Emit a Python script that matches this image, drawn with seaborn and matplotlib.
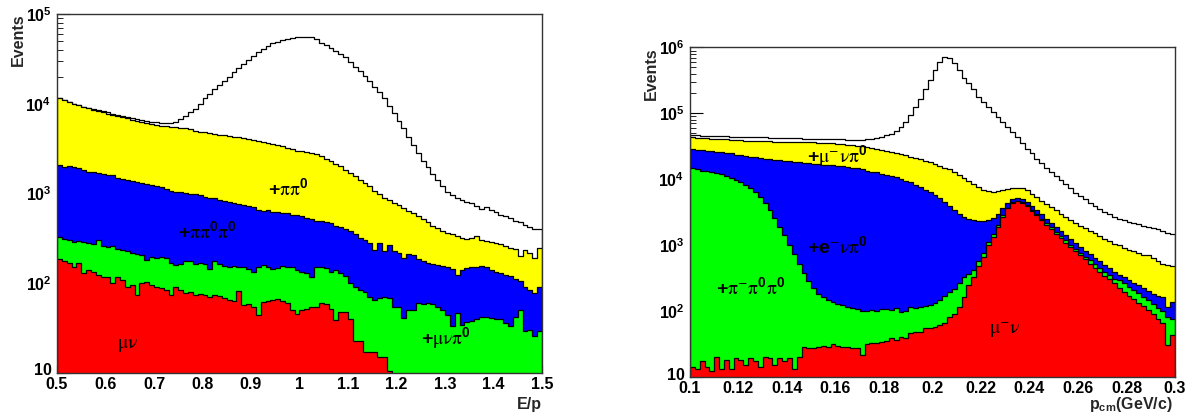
import numpy as np
import pandas as pd
import matplotlib
matplotlib.use("Agg")
import matplotlib.pyplot as plt
from matplotlib.ticker import FixedLocator, LogLocator, NullFormatter
from matplotlib.transforms import ScaledTranslation
import seaborn as sns

# ---------------- data: left panel (E/p), cumulative stack levels ----------------
ep_range = (0.5, 1.5)
ep_nbins = 100
ep_total = [11500, 11000, 10500, 10000, 9700, 9300, 9000, 8800, 8500, 8200,
            8000, 7700, 7500, 7300, 7100, 6900, 6700, 6600, 6400, 6300,
            6200, 6100, 6050, 6100, 6300, 6700, 7300, 8000, 8800, 10000,
            11500, 13000, 14500, 16000, 17800, 20000, 22500, 25000, 28000, 31000,
            34000, 38000, 41000, 44000, 47000, 49000, 51000, 53000, 54500, 55500,
            56000, 56000, 55000, 52000, 48000, 45000, 42000, 39000, 36000, 33000,
            29000, 26000, 23000, 20500, 18000, 15500, 13500, 11500, 9500, 7800,
            6500, 5300, 4300, 3500, 2800, 2300, 1950, 1650, 1400, 1200,
            1050, 960, 900, 840, 800, 780, 720, 680, 700, 660,
            620, 580, 560, 530, 500, 480, 450, 420, 400, 400]
ep_pipi0 = [11500, 11000, 10500, 10000, 9600, 9200, 8900, 8600, 8300, 8000,
            7700, 7500, 7300, 7100, 6900, 6600, 6400, 6200, 6100, 5900,
            5800, 5700, 5600, 5500, 5500, 5400, 5300, 5200, 5000, 4900,
            4800, 4700, 4600, 4500, 4450, 4400, 4300, 4250, 4150, 4050,
            3950, 3850, 3750, 3650, 3550, 3450, 3350, 3200, 3100, 3000,
            2950, 2900, 2850, 2750, 2600, 2450, 2300, 2150, 2000, 1850,
            1700, 1550, 1400, 1300, 1200, 1080, 980, 900, 840, 790,
            740, 690, 640, 600, 560, 520, 480, 440, 410, 380,
            360, 350, 340, 320, 315, 320, 335, 300, 295, 290,
            280, 275, 260, 250, 240, 200, 235, 215, 190, 245]
ep_pipi0pi0 = [2100, 1950, 2000, 1950, 1900, 1850, 1750, 1750, 1700, 1650,
               1620, 1600, 1500, 1450, 1420, 1380, 1330, 1300, 1280, 1230,
               1200, 1180, 1120, 1080, 1050, 1050, 1020, 1000, 980, 950,
               920, 890, 880, 850, 820, 810, 790, 770, 740, 720,
               700, 660, 640, 650, 630, 630, 610, 600, 580, 570,
               560, 540, 520, 500, 500, 480, 470, 440, 420, 400,
               380, 350, 320, 300, 280, 235, 280, 230, 270, 230,
               215, 190, 210, 205, 185, 175, 170, 165, 160, 155,
               150, 145, 123, 140, 148, 150, 150, 155, 150, 140,
               135, 130, 125, 120, 112, 105, 92, 85, 78, 92]
ep_munupi0 = [325, 310, 300, 290, 295, 285, 280, 275, 300, 260,
              255, 260, 240, 235, 230, 215, 210, 205, 180, 195,
              190, 195, 190, 170, 160, 165, 175, 178, 165, 170,
              165, 145, 178, 165, 155, 150, 155, 152, 150, 145,
              135, 150, 158, 150, 145, 148, 155, 152, 150, 140,
              135, 130, 118, 150, 152, 148, 135, 140, 130, 120,
              100, 92, 84, 80, 70, 65, 68, 71, 68, 55,
              55, 41, 50, 50, 60, 58, 60, 58, 55, 50,
              44, 33, 47, 34, 37, 38, 40, 42, 42, 41,
              40, 40, 36, 33, 42, 50, 29, 30, 26, 29]
ep_munu = [185, 175, 167, 152, 167, 130, 140, 135, 125, 118,
           118, 100, 118, 110, 92, 95, 74, 100, 104, 95,
           92, 88, 85, 74, 90, 85, 78, 80, 74, 75,
           74, 71, 74, 72, 68, 65, 63, 81, 57, 58,
           55, 44, 62, 64, 65, 67, 63, 60, 50, 46,
           50, 52, 55, 55, 60, 58, 52, 39, 48, 48,
           40, 23, 23, 17, 17, 17, 15, 15, 10.5, 0,
           0, 0, 0, 0, 0, 0, 0, 0, 0, 0,
           0, 0, 0, 0, 0, 0, 0, 0, 0, 0,
           0, 0, 0, 0, 0, 0, 0, 0, 0, 0]
ep_ticks = [0.5, 0.6, 0.7, 0.8, 0.9, 1.0, 1.1, 1.2, 1.3, 1.4, 1.5]
ep_ticklabels = ["0.5", "0.6", "0.7", "0.8", "0.9", "1", "1.1", "1.2", "1.3", "1.4", "1.5"]
ep_yticks = [10, 100, 1000, 10000, 100000]
ep_yticklabels = ["10", r"$\mathbf{10^{2}}$", r"$\mathbf{10^{3}}$", r"$\mathbf{10^{4}}$", r"$\mathbf{10^{5}}$"]

# ---------------- data: right panel (p_cm), cumulative stack levels ----------------
pc_range = (0.1, 0.3)
pc_nbins = 100
pc_total = [46000, 46000, 45500, 45500, 45000, 45000, 44500, 44500, 44000, 44000,
            44000, 43500, 43500, 43000, 43000, 43000, 42500, 42500, 42000, 42000,
            42000, 41500, 41500, 41000, 41000, 41000, 40500, 40500, 40000, 40000,
            40000, 40000, 39500, 39500, 39500, 39500, 40000, 41000, 42000, 44000,
            46000, 49000, 54000, 62000, 75000, 95000, 125000, 165000, 230000, 320000,
            460000, 610000, 710000, 690000, 580000, 450000, 350000, 285000, 230000, 180000,
            150000, 125000, 105000, 88000, 74000, 62000, 52000, 43000, 35000, 29000,
            24500, 20500, 17500, 15000, 13000, 11300, 9800, 8300, 7200, 6200,
            5500, 4900, 4400, 3900, 3500, 3200, 2900, 2700, 2500, 2350,
            2250, 2150, 2050, 1950, 1850, 1780, 1720, 1650, 1500, 1450]
pc_munupi0 = [43000, 42500, 42000, 41500, 41000, 40500, 40000, 40000, 39500, 39000,
              39000, 38500, 38500, 38000, 38000, 37500, 37500, 37000, 37000, 37000,
              36500, 36500, 36500, 36000, 36000, 36000, 35500, 35500, 35000, 35000,
              34500, 34000, 33500, 33000, 32000, 31500, 30500, 30000, 29000, 28000,
              27000, 26000, 25000, 24000, 23000, 22000, 21000, 20000, 19000, 18000,
              17000, 16000, 15000, 14000, 12800, 11700, 10500, 9400, 8400, 7600,
              6900, 6500, 6400, 6500, 6800, 7100, 7300, 7400, 7300, 6800,
              6000, 5300, 4700, 4200, 3800, 3400, 3000, 2700, 2400, 2150,
              1950, 1800, 1650, 1500, 1350, 1250, 1150, 1050, 980, 900,
              850, 800, 750, 700, 700, 640, 560, 520, 490, 470]
pc_enupi0 = [29000, 28000, 27500, 27000, 26500, 26000, 25500, 25000, 24500, 23500,
             23000, 22500, 22000, 21500, 21000, 20500, 20000, 19500, 19200, 19000,
             18800, 18500, 18000, 17500, 17300, 17000, 16800, 16500, 16300, 16200,
             16000, 15800, 15500, 15000, 14500, 14000, 13500, 13000, 12600, 12000,
             11600, 11200, 10600, 10000, 9400, 8900, 8200, 7600, 6900, 6300,
             5700, 5100, 4500, 3900, 3400, 2950, 2650, 2450, 2350, 2300,
             2300, 2350, 2600, 3000, 3600, 4300, 4900, 5100, 5000, 4500,
             3900, 3350, 2900, 2500, 2150, 1850, 1600, 1400, 1220, 1060,
             930, 820, 720, 640, 560, 500, 440, 390, 350, 320,
             290, 265, 245, 220, 200, 180, 165, 160, 115, 135]
pc_pipi0pi0 = [14500, 14000, 13500, 13200, 12800, 12300, 11800, 11200, 10500, 9800,
               9000, 8200, 7300, 6400, 5400, 4400, 3400, 2600, 1900, 1400,
               1000, 720, 520, 380, 280, 220, 180, 160, 145, 135,
               128, 120, 115, 110, 105, 98, 100, 102, 100, 105,
               108, 104, 110, 96, 98, 112, 110, 115, 118, 122,
               130, 145, 165, 190, 210, 260, 330, 360, 420, 560,
               760, 1100, 1450, 2000, 2800, 3700, 4500, 4700, 4450, 4000,
               3450, 2950, 2500, 2150, 1850, 1580, 1350, 1170, 1010, 870,
               760, 660, 590, 520, 445, 390, 345, 300, 290, 260,
               230, 205, 185, 160, 145, 125, 110, 100, 80, 75]
pc_munu = [14, 13, 17, 14, 12, 20, 13, 18, 13, 19,
           18, 15, 19, 17, 14, 20, 19, 15, 19, 17,
           19, 13, 20, 28, 27, 27, 28, 29, 28, 31,
           29, 28, 28, 27, 27, 21, 31, 32, 32, 34,
           35, 38, 36, 40, 39, 46, 47, 48, 54, 54,
           56, 60, 65, 80, 88, 115, 163, 245, 330, 470,
           660, 1000, 1330, 1900, 2700, 3600, 4400, 4600, 4300, 3850,
           3300, 2800, 2350, 2000, 1720, 1470, 1260, 1080, 930, 800,
           700, 600, 520, 450, 390, 340, 300, 260, 225, 195,
           170, 150, 132, 116, 102, 88, 76, 65, 30, 42]
pc_ticks = [0.1, 0.12, 0.14, 0.16, 0.18, 0.2, 0.22, 0.24, 0.26, 0.28, 0.3]
pc_ticklabels = ["0.1", "0.12", "0.14", "0.16", "0.18", "0.2", "0.22", "0.24", "0.26", "0.28", "0.3"]
pc_yticks = [10, 100, 1000, 10000, 100000, 1000000]
pc_yticklabels = ["10", r"$\mathbf{10^{2}}$", r"$\mathbf{10^{3}}$", r"$\mathbf{10^{4}}$",
                  r"$\mathbf{10^{5}}$", r"$\mathbf{10^{6}}$"]

layer_colors = ["#ffffff", "#ffff00", "#0000ff", "#00ff00", "#ff0000"]

# ---------------- style ----------------
sns.set_theme(style="ticks")
plt.rcParams["font.family"] = ["Liberation Sans", "DejaVu Sans"]
plt.rcParams["mathtext.fontset"] = "custom"
plt.rcParams["mathtext.rm"] = "STIXGeneral"
plt.rcParams["mathtext.it"] = "STIXGeneral"
plt.rcParams["mathtext.bf"] = "Liberation Sans:bold"
plt.rcParams["mathtext.sf"] = "Liberation Sans"

fig = plt.figure(figsize=(11.96, 4.18), dpi=100)
fig.patch.set_facecolor("white")
axL = fig.add_axes([57 / 1196, 45 / 418, 485 / 1196, 359 / 418])
axR = fig.add_axes([690 / 1196, 41.5 / 418, 485 / 1196, 329 / 418])


def draw_stack(ax, rng, nbins, layers):
    edges = np.linspace(rng[0], rng[1], nbins + 1)
    centers = 0.5 * (edges[:-1] + edges[1:])
    for vals, col in zip(layers, layer_colors):
        df = pd.DataFrame({"x": centers, "w": np.asarray(vals, dtype=float)})
        sns.histplot(data=df, x="x", weights="w", bins=edges.tolist(), element="step",
                     fill=True, color=col, alpha=1.0, edgecolor="black",
                     linewidth=0.9, ax=ax)
    ax.set_yscale("log")
    ax.set_xlim(rng)


def style_axes(ax, ylim, xt, xtl, yt, ytl, lift):
    ax.set_ylim(ylim)
    ax.set_axisbelow(True)
    ax.set_xlabel("")
    ax.set_ylabel("")
    ax.xaxis.set_major_locator(FixedLocator(xt))
    ax.set_xticklabels(xtl, fontweight="bold", fontsize=11.5)
    ax.yaxis.set_major_locator(FixedLocator(yt))
    ax.set_yticklabels(ytl, fontweight="bold", fontsize=11.5)
    ax.yaxis.set_minor_locator(LogLocator(base=10, subs=np.arange(2, 10)))
    ax.yaxis.set_minor_formatter(NullFormatter())
    ax.tick_params(axis="y", which="major", direction="in", length=9, width=0.8,
                   pad=4, left=True, right=False, colors="black")
    ax.tick_params(axis="y", which="minor", direction="in", length=4, width=0.6,
                   left=True, right=False, colors="black")
    ax.tick_params(axis="x", which="major", direction="in", length=6, width=0.8,
                   pad=3, bottom=True, top=False, colors="black")
    for sp in ax.spines.values():
        sp.set_visible(True)
        sp.set_color("#333333")
        sp.set_linewidth(1.0)
        sp.set_zorder(5)
    # ROOT puts the lowest "10" label slightly above its tick
    low = ax.yaxis.get_major_ticks()[0].label1
    low.set_transform(low.get_transform() + ScaledTranslation(0, lift / 72, fig.dpi_scale_trans))


draw_stack(axL, ep_range, ep_nbins, [ep_total, ep_pipi0, ep_pipi0pi0, ep_munupi0, ep_munu])
style_axes(axL, (10, 1e5), ep_ticks, ep_ticklabels, ep_yticks, ep_yticklabels, 3)
draw_stack(axR, pc_range, pc_nbins, [pc_total, pc_munupi0, pc_enupi0, pc_pipi0pi0, pc_munu])
style_axes(axR, (10, 1e6), pc_ticks, pc_ticklabels, pc_yticks, pc_yticklabels, 2)

# component labels
lab_kw = dict(ha="center", va="center", fontsize=14, color="black", zorder=6)
axL.text(0.976, 1120, r"$\mathbf{+}\mathrm{\pi\pi}^{\mathbf{0}}$", **lab_kw)
axL.text(0.811, 370, r"$\mathbf{+}\mathrm{\pi\pi}^{\mathbf{0}}\mathrm{\pi}^{\mathbf{0}}$", **lab_kw)
axL.text(0.645, 20, r"$\mathrm{\mu\nu}$", **lab_kw)
axL.text(1.302, 24, r"$\mathbf{+}\mathrm{\mu\nu\pi}^{\mathbf{0}}$", **lab_kw)

axR.text(0.1606, 22000, r"$\mathbf{+}\mathrm{\mu}^{-}\mathrm{\nu\pi}^{\mathbf{0}}$", **lab_kw)
axR.text(0.1606, 930, r"$\mathbf{+e}^{-}\mathrm{\nu\pi}^{\mathbf{0}}$", **lab_kw)
axR.text(0.1251, 220, r"$\mathbf{+}\mathrm{\pi}^{-}\mathrm{\pi}^{\mathbf{0}}\mathrm{\pi}^{\mathbf{0}}$", **lab_kw)
axR.text(0.2298, 51, r"$\mathrm{\mu}^{-}\mathrm{\nu}$", **lab_kw)

# axis titles (ROOT style: at the ends of the axes)
fig.text(18.5 / 1196, 1 - 13 / 418, "Events", rotation=90, ha="center", va="top",
         fontsize=11.5, fontweight="bold")
fig.text(651 / 1196, 1 - 47 / 418, "Events", rotation=90, ha="center", va="top",
         fontsize=11.5, fontweight="bold")
fig.text(542 / 1196, 1 - 404 / 418, "E/p", ha="right", va="center",
         fontsize=11.5, fontweight="bold")
fig.text(1173 / 1196, 1 - 404 / 418, r"$\mathbf{p_{cm}(GeV/c)}$", ha="right", va="center",
         fontsize=11.5)

fig.savefig("out.png", dpi=100, facecolor="white")
